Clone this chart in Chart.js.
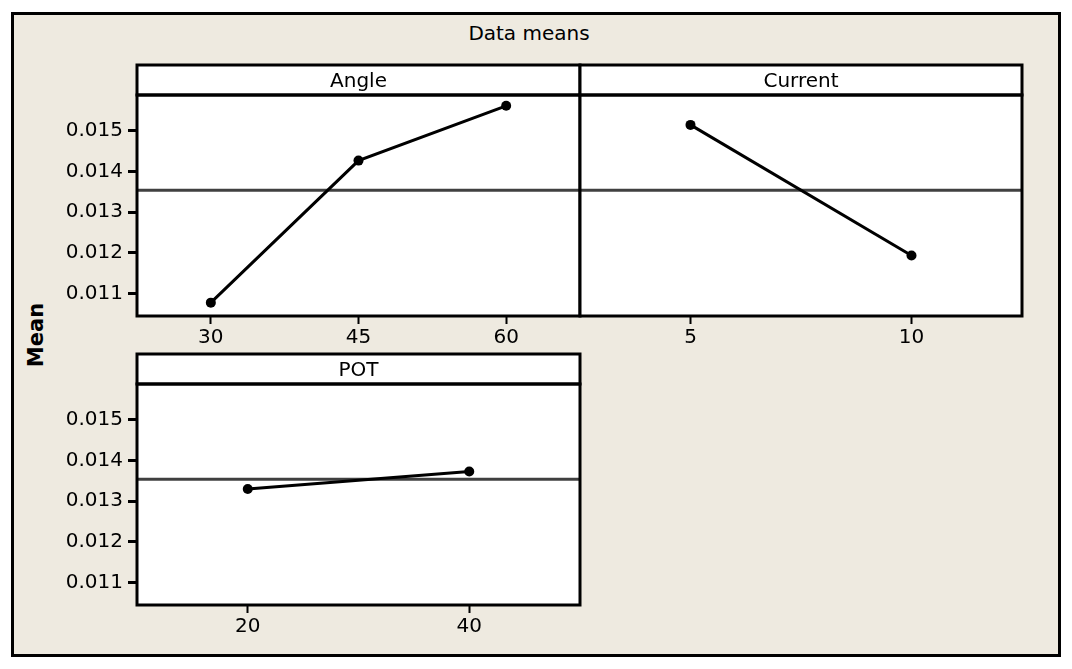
<!DOCTYPE html>
<html>
<head>
<meta charset="utf-8">
<title>Main Effects Plot</title>
<script src="https://cdn.jsdelivr.net/npm/chart.js@4/dist/chart.umd.min.js"></script>
<style>
    body { margin: 0; background: #fff; width: 1072px; height: 669px; overflow: hidden; position: relative; font-family: "DejaVu Sans", sans-serif; }
    #marco { position: absolute; left: 11px; top: 12px; width: 1050px; height: 645px; box-sizing: border-box; border: 3px solid #000; background: #eeeae0; }
    #titulo { position: absolute; left: 0; width: 1058px; top: 21px; line-height: 24px; text-align: center; font-size: 20px; color: #000; }
    #ejeY { position: absolute; left: 36px; top: 335px; transform: translate(-50%, -50%) rotate(-90deg); font-weight: bold; font-size: 21px; color: #000; white-space: nowrap; }
    canvas { position: absolute; left: 0; top: 0; }
</style>
</head>
<body>
<div id="marco"></div>
<div id="titulo">Data means</div>
<div id="ejeY">Mean</div>
<canvas id="graficaAngle" width="1072" height="669"></canvas>
<canvas id="graficaCurrent" width="1072" height="669"></canvas>
<canvas id="graficaPOT" width="1072" height="669"></canvas>
<script>
        // Datos
        var nivelesAngle = [30, 45, 60];
        var mediasAngle = [0.01077, 0.01427, 0.01562];
        var nivelesCurrent = [5, 10];
        var mediasCurrent = [0.01515, 0.01193];
        var nivelesPOT = [20, 40];
        var mediasPOT = [0.01330, 0.01373];
        var mediaGeneral = 0.01354;
        var ticksY = [0.011, 0.012, 0.013, 0.014, 0.015];
        var rangoY = [0.010441, 0.015887];

        var fuente = { family: '"DejaVu Sans", sans-serif', size: 20 };

        // Plugin para dibujar el panel: fondo, linea de media, bordes y encabezado
        var panelPlugin = {
            id: 'panel',
            beforeDraw: function (chart, args, opts) {
                var a = chart.chartArea, ctx = chart.ctx;
                ctx.save();
                ctx.fillStyle = '#fff';
                ctx.fillRect(a.left, a.top - 30, a.right - a.left, a.bottom - a.top + 30);
                ctx.restore();
            },
            beforeDatasetsDraw: function (chart) {
                var a = chart.chartArea, ctx = chart.ctx;
                var y = chart.scales.y.getPixelForValue(mediaGeneral);
                ctx.save();
                ctx.strokeStyle = '#404040';
                ctx.lineWidth = 3;
                ctx.beginPath();
                ctx.moveTo(a.left, y);
                ctx.lineTo(a.right, y);
                ctx.stroke();
                ctx.restore();
            },
            afterDraw: function (chart, args, opts) {
                var a = chart.chartArea, ctx = chart.ctx;
                ctx.save();
                ctx.strokeStyle = '#000';
                ctx.lineWidth = 3;
                ctx.strokeRect(a.left, a.top - 30, a.right - a.left, 30);
                ctx.strokeRect(a.left, a.top, a.right - a.left, a.bottom - a.top);
                ctx.fillStyle = '#000';
                ctx.font = '20px "DejaVu Sans", sans-serif';
                ctx.textAlign = 'center';
                ctx.textBaseline = 'alphabetic';
                ctx.fillText(opts.titulo, (a.left + a.right) / 2, a.top - 8);
                ctx.restore();
            }
        };

        function crearPanel(id, titulo, niveles, medias, minX, maxX, area, conEjeY) {
            var datos = niveles.map(function (n, i) { return { x: n, y: medias[i] }; });
            var anchoEjeY = conEjeY ? 90 : 0;
            var ctx = document.getElementById(id).getContext('2d');
            return new Chart(ctx, {
                type: 'line',
                data: {
                    datasets: [{
                        data: datos,
                        borderColor: '#000',
                        borderWidth: 3,
                        backgroundColor: '#000',
                        pointRadius: 5,
                        pointBorderWidth: 0,
                        tension: 0
                    }]
                },
                options: {
                    responsive: false,
                    animation: false,
                    devicePixelRatio: 1,
                    layout: {
                        padding: {
                            left: area.left - anchoEjeY,
                            right: 1072 - area.right,
                            top: area.top,
                            bottom: 669 - area.bottom - 45
                        }
                    },
                    plugins: {
                        legend: { display: false },
                        tooltip: { enabled: false },
                        panel: { titulo: titulo }
                    },
                    scales: {
                        x: {
                            type: 'linear',
                            min: minX,
                            max: maxX,
                            afterBuildTicks: function (s) { s.ticks = niveles.map(function (v) { return { value: v }; }); },
                            afterFit: function (s) { s.height = 45; },
                            ticks: { color: '#000', font: fuente, padding: 2, maxRotation: 0, callback: function (v) { return String(v); } },
                            grid: { drawOnChartArea: false, drawTicks: true, tickLength: 8, tickWidth: 2, tickColor: '#000' },
                            border: { display: false }
                        },
                        y: {
                            display: conEjeY,
                            min: rangoY[0],
                            max: rangoY[1],
                            afterBuildTicks: function (s) { s.ticks = ticksY.map(function (v) { return { value: v }; }); },
                            afterFit: function (s) { s.width = anchoEjeY; },
                            ticks: { color: '#000', font: fuente, padding: 5, callback: function (v) { return v.toFixed(3); } },
                            grid: { drawOnChartArea: false, drawTicks: true, tickLength: 9, tickWidth: 3, tickColor: '#000' },
                            border: { display: false }
                        }
                    }
                },
                plugins: [panelPlugin]
            });
        }

        crearPanel('graficaAngle', 'Angle', nivelesAngle, mediasAngle, 22.5, 67.5, { left: 137, right: 580, top: 95, bottom: 316 }, true);
        crearPanel('graficaCurrent', 'Current', nivelesCurrent, mediasCurrent, 2.5, 12.5, { left: 580, right: 1022, top: 95, bottom: 316 }, false);
        crearPanel('graficaPOT', 'POT', nivelesPOT, mediasPOT, 10, 50, { left: 137, right: 580, top: 384, bottom: 605 }, true);
</script>
</body>
</html>
